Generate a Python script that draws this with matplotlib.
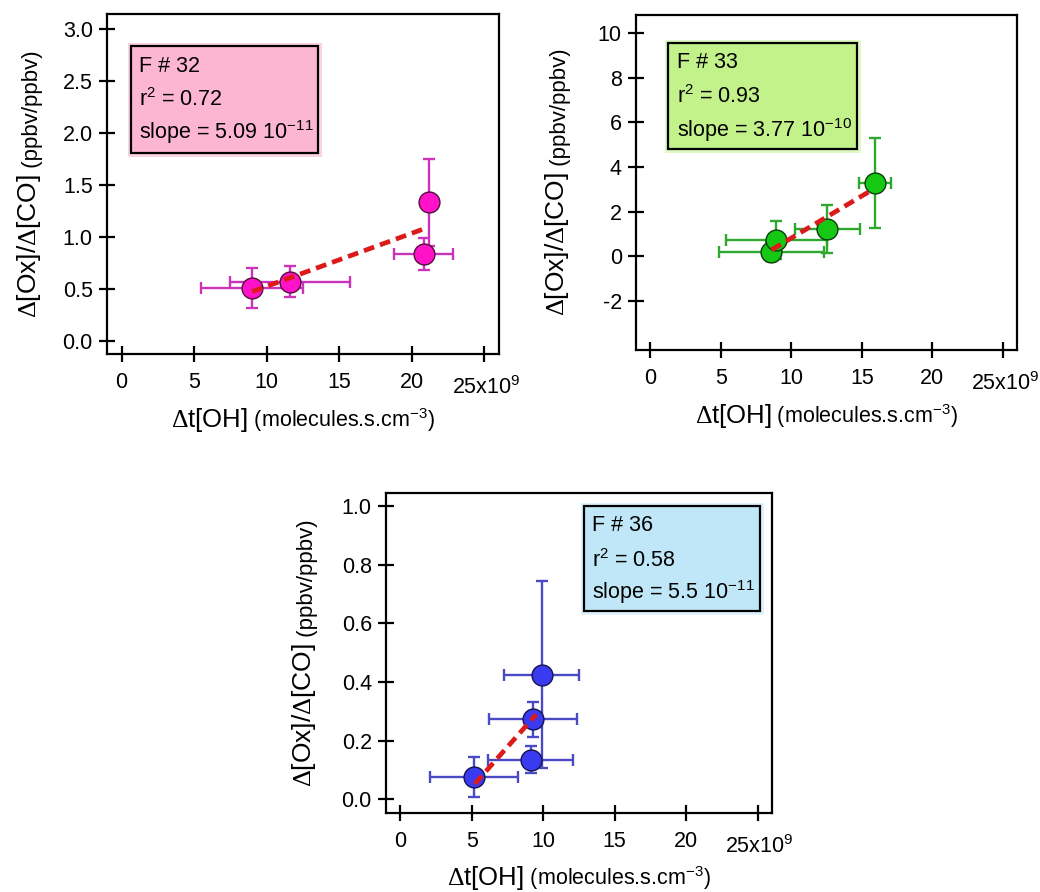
import matplotlib
matplotlib.use('Agg')
import matplotlib.pyplot as plt
from matplotlib.patches import Rectangle
import numpy as np

plt.rcParams['font.family'] = ['Liberation Sans', 'DejaVu Sans']
plt.rcParams['mathtext.fontset'] = 'custom'
plt.rcParams['mathtext.rm'] = 'Liberation Serif'
plt.rcParams['mathtext.it'] = 'Liberation Serif:italic'
plt.rcParams['mathtext.bf'] = 'Liberation Serif:bold'
plt.rcParams['axes.unicode_minus'] = False

# ---------------- data (x in units of 1e9 molecules.s.cm-3) ----------------
f32_x = [9.0, 11.6, 20.8, 21.15]
f32_y = [0.51, 0.575, 0.84, 1.335]
f32_xerr = [3.5, 4.15, 2.0, 0.0]
f32_yerr = [0.19, 0.15, 0.15, 0.415]
f32_fit_x = [9.0, 21.1]
f32_slope = 5.09e-11
f32_intercept = 0.02

f33_x = [8.6, 8.95, 12.55, 15.95]
f33_y = [0.2, 0.72, 1.23, 3.29]
f33_xerr = [3.75, 3.6, 2.3, 1.15]
f33_yerr = [0.42, 0.85, 1.08, 2.02]
f33_fit_x = [8.6, 15.6]
f33_slope = 3.77e-10
f33_intercept = -2.96

f36_x = [5.15, 9.12, 9.28, 9.9]
f36_y = [0.076, 0.135, 0.273, 0.425]
f36_xerr = [3.07, 2.97, 3.1, 2.63]
f36_yerr = [0.068, 0.045, 0.06, 0.32]
f36_fit_x = [5.2, 9.5]
f36_slope = 5.5e-11
f36_intercept = -0.234

x_ticks = [0, 5, 10, 15, 20, 25]
x_ticklabels = ['0', '5', '10', '15', '20', '']
x_last_label = r'25x10$\mathregular{^{9}}$'

f32_yticks = [0.0, 0.5, 1.0, 1.5, 2.0, 2.5, 3.0]
f32_yticklabels = ['0.0', '0.5', '1.0', '1.5', '2.0', '2.5', '3.0']
f33_yticks = [-2, 0, 2, 4, 6, 8, 10]
f33_yticklabels = ['-2', '0', '2', '4', '6', '8', '10']
f36_yticks = [0.0, 0.2, 0.4, 0.6, 0.8, 1.0]
f36_yticklabels = ['0.0', '0.2', '0.4', '0.6', '0.8', '1.0']

f32_text = ['F # 32', r'r$\mathregular{^{2}}$ = 0.72', r'slope = 5.09 10$\mathregular{^{-11}}$']
f33_text = ['F # 33', r'r$\mathregular{^{2}}$ = 0.93', r'slope = 3.77 10$\mathregular{^{-10}}$']
f36_text = ['F # 36', r'r$\mathregular{^{2}}$ = 0.58', r'slope = 5.5 10$\mathregular{^{-11}}$']

W, H = 1040, 892
fig = plt.figure(figsize=(W / 100, H / 100), dpi=100)


def px_axes(l, t, r, b):
    return fig.add_axes([l / W, 1 - b / H, (r - l) / W, (b - t) / H])


TICK_FS = 15.5
BOX_FS = 15.5


def style_axes(ax, ylim, yticks, yticklabels):
    ax.set_xlim(-1, 26)
    ax.set_ylim(*ylim)
    ax.set_xticks(x_ticks)
    ax.set_xticklabels(x_ticklabels)
    ax.set_yticks(yticks)
    ax.set_yticklabels(yticklabels)
    for s in ax.spines.values():
        s.set_linewidth(1.6)
    ax.tick_params(direction='inout', length=11.5, width=1.6, labelsize=TICK_FS,
                   color='black')
    ax.tick_params(axis='x', pad=7.5)
    ax.tick_params(axis='y', pad=4.5)
    ax.annotate(x_last_label, xy=(x_ticks[-1], 0), xycoords=ax.get_xaxis_transform(),
                xytext=(2, -22), textcoords='offset pixels', ha='center', va='top',
                fontsize=TICK_FS)


def draw_series(ax, x, y, xerr, yerr, fx, slope, icpt, mfc, ecol, mec):
    ax.errorbar(x, y, xerr=xerr, yerr=yerr, fmt='none', ecolor=ecol,
                elinewidth=1.7, capsize=4, capthick=1.7, zorder=2)
    ax.plot(x, y, 'o', ms=15, mfc=mfc, mec=mec, mew=1.0, zorder=3)
    fx = np.array(fx)
    fy = slope * 1e9 * fx + icpt
    ax.plot(fx, fy, color='#dd1a1a', lw=3.4, dashes=(2.3, 1.3), zorder=4,
            solid_capstyle='butt')


def draw_box(ax, x0, y0, x1, y1, fc, glow, lines, tx, tys):
    ax.add_patch(Rectangle((x0, y0), x1 - x0, y1 - y0, transform=ax.transAxes,
                           fc='none', ec=glow, lw=5, zorder=5))
    ax.add_patch(Rectangle((x0, y0), x1 - x0, y1 - y0, transform=ax.transAxes,
                           fc=fc, ec='black', lw=1.6, zorder=6))
    for s, ty in zip(lines, tys):
        ax.text(tx, ty, s, transform=ax.transAxes, fontsize=BOX_FS,
                ha='left', va='center', zorder=7)


label_pieces = []


def xlabel(ax, ybot_px):
    t1 = fig.text(0, 1 - ybot_px / H, r'$\Delta$t[OH]', fontsize=18.5,
                  ha='left', va='bottom')
    t2 = fig.text(0, 0, r' (molecules.s.cm$\mathregular{^{-3}}$)', fontsize=15.5,
                  ha='left', va='bottom')
    label_pieces.append(('x', ax, t1, t2))


def ylabel(ax, xleft_px):
    t1 = fig.text(xleft_px / W, 0, r'$\Delta$[Ox]/$\Delta$[CO]', fontsize=19,
                  rotation=90, ha='left', va='bottom')
    t2 = fig.text(0, 0, ' (ppbv/ppbv)', fontsize=16,
                  rotation=90, ha='left', va='bottom')
    label_pieces.append(('y', ax, t1, t2))


# ---------------- panel F#32 ----------------
ax1 = px_axes(107, 14, 499, 354)
style_axes(ax1, (-0.12, 3.14), f32_yticks, f32_yticklabels)
draw_series(ax1, f32_x, f32_y, f32_xerr, f32_yerr, f32_fit_x, f32_slope,
            f32_intercept, '#ff12c8', '#cc33bb', '#50103c')
draw_box(ax1, 0.061, 0.590, 0.539, 0.907, '#fdb6d2', '#fbd3e3', f32_text,
         0.082, [0.845, 0.747, 0.654])
xlabel(ax1, 434)
ylabel(ax1, 15)

# ---------------- panel F#33 ----------------
ax2 = px_axes(636, 15, 1017, 350)
style_axes(ax2, (-4.2, 10.8), f33_yticks, f33_yticklabels)
draw_series(ax2, f33_x, f33_y, f33_xerr, f33_yerr, f33_fit_x, f33_slope,
            f33_intercept, '#14c814', '#2ea82e', '#0c3a0c')
draw_box(ax2, 0.085, 0.600, 0.579, 0.917, '#c3f18a', '#e0f8c4', f33_text,
         0.107, [0.858, 0.756, 0.657])
xlabel(ax2, 430)
ylabel(ax2, 543)

# ---------------- panel F#36 ----------------
ax3 = px_axes(386, 493, 772, 813)
style_axes(ax3, (-0.047, 1.044), f36_yticks, f36_yticklabels)
draw_series(ax3, f36_x, f36_y, f36_xerr, f36_yerr, f36_fit_x, f36_slope,
            f36_intercept, '#3a3af0', '#4a4ac4', '#141450')
draw_box(ax3, 0.514, 0.630, 0.968, 0.958, '#bfe7f8', '#dff2fb', f36_text,
         0.533, [0.899, 0.790, 0.691])
xlabel(ax3, 892)
ylabel(ax3, 290)

# ---------------- compose two-size labels, centred on the axes ----------------
fig.canvas.draw()
r = fig.canvas.get_renderer()
for kind, ax, t1, t2 in label_pieces:
    b1 = t1.get_window_extent(r)
    b2 = t2.get_window_extent(r)
    abox = ax.get_window_extent(r)
    if kind == 'x':
        total = b1.width + b2.width
        x0 = abox.x0 + abox.width / 2 - total / 2
        y0 = t1.get_position()[1]
        t1.set_position((x0 / W, y0))
        t2.set_position(((x0 + b1.width) / W, y0))
    else:
        total = b1.height + b2.height
        y0 = abox.y0 + abox.height / 2 - total / 2
        x0 = t1.get_position()[0]
        # align the baseline side (right edge) of the rotated pieces
        t1.set_position((x0, y0 / H))
        t2.set_position((x0 + (b1.width - b2.width) / W, (y0 + b1.height) / H))

fig.savefig('out.png', dpi=100)
